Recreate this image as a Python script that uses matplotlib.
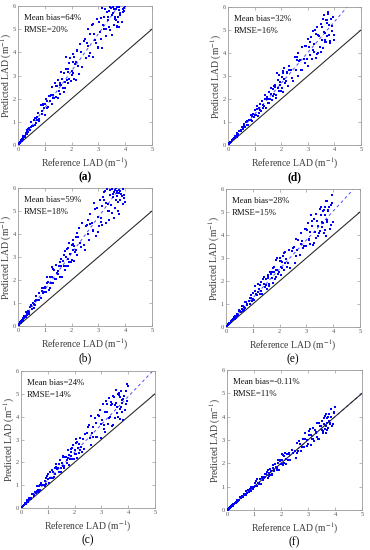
import matplotlib
matplotlib.use("Agg")
import matplotlib.pyplot as plt

plt.rcParams['font.family'] = ['Liberation Serif', 'DejaVu Serif']
plt.rcParams['mathtext.fontset'] = 'stix'

# Reference LAD (shared x values for all panels), two batches
reference_lad = [
    0.02, 0.04, 0.05, 0.06, 0.08, 0.10, 0.12, 0.15, 0.18, 0.20,
    0.22, 0.25, 0.28, 0.30, 0.33, 0.35, 0.38, 0.40, 0.45, 0.50,
    0.52, 0.55, 0.60, 0.62, 0.65, 0.68, 0.70, 0.75, 0.80, 0.85,
    0.88, 0.90, 0.95, 1.00, 1.05, 1.10, 1.12, 1.15, 1.20, 1.22,
    1.25, 1.28, 1.30, 1.35, 1.40, 1.42, 1.45, 1.50, 1.52, 1.55,
    1.58, 1.60, 1.65, 1.70, 1.72, 1.75, 1.80, 1.85, 1.88, 1.90,
    1.92, 1.95, 2.00, 2.02, 2.05, 2.08, 2.10, 2.12, 2.15, 2.20,
    2.25, 2.30, 2.35, 2.40, 2.50, 2.55, 2.60, 2.62, 2.65, 2.70,
    2.75, 2.80, 2.85, 2.90, 2.95, 3.00, 3.02, 3.05, 3.10, 3.12,
    3.15, 3.20, 3.22, 3.25, 3.30, 3.32, 3.35, 3.40, 3.45, 3.50,
    3.52, 3.55, 3.58, 3.60, 3.62, 3.65, 3.68, 3.70, 3.72, 3.75,
    3.78, 3.80, 3.85, 3.90, 3.95, 4.00,
]
reference_lad_2 = [
    0.03, 0.07, 0.09, 0.11, 0.14, 0.17, 0.24, 0.27, 0.32, 0.36,
    0.42, 0.48, 0.58, 0.66, 0.72, 0.78, 0.92, 0.98, 1.08, 1.18,
    1.32, 1.38, 1.48, 1.56, 1.62, 1.68, 1.78, 1.82, 1.87, 1.97,
    2.04, 2.07, 2.18, 2.28, 2.45, 2.58, 2.68, 2.78, 2.88, 2.98,
    3.08, 3.18, 3.28, 3.38, 3.42, 3.48, 3.56, 3.63, 3.66, 3.71,
    3.74, 3.77, 3.82, 3.87, 3.92, 3.97, 1.02, 1.74, 2.22, 3.36,
]

pred_a = [
    0.03, 0.07, 0.10, 0.08, 0.13, 0.20, 0.18, 0.26, 0.24, 0.37,
    0.37, 0.36, 0.53, 0.47, 0.58, 0.47, 0.70, 0.67, 0.64, 1.00,
    0.83, 0.81, 1.08, 1.18, 0.88, 1.16, 1.07, 1.39, 1.14, 1.74,
    1.45, 1.35, 1.71, 1.30, 2.00, 1.90, 1.65, 2.13, 1.89, 2.17,
    1.75, 2.50, 2.15, 2.03, 2.56, 2.06, 2.54, 2.81, 2.32, 2.60,
    2.21, 3.16, 2.85, 2.30, 3.10, 2.71, 3.78, 3.15, 2.68, 3.52,
    2.83, 3.75, 3.20, 3.03, 3.59, 2.86, 3.78, 3.50, 2.80, 4.07,
    3.43, 4.37, 4.00, 3.36, 4.56, 3.76, 5.01, 4.26, 3.84, 4.79,
    5.16, 3.78, 4.77, 4.42, 5.46, 4.20, 5.29, 4.88, 4.57, 5.93,
    4.17, 5.52, 4.99, 5.85, 4.70, 5.75, 5.53, 5.10, 5.95, 4.73,
    5.62, 5.68, 5.19, 5.88, 5.52, 5.40, 5.15, 5.97, 5.30, 5.82,
    5.10, 5.60, 6.10, 5.75, 5.92, 5.98,
]
pred_a_2 = [
    0.04, 0.13, 0.14, 0.19, 0.19, 0.31, 0.40, 0.38, 0.63, 0.54,
    0.75, 0.76, 1.09, 0.94, 1.22, 1.03, 1.75, 1.59, 1.59, 2.12,
    2.01, 2.69, 2.04, 2.69, 2.59, 2.44, 3.29, 2.82, 3.27, 2.76,
    3.93, 3.11, 3.60, 3.08, 4.47, 4.39, 3.95, 5.21, 4.54, 4.25,
    5.47, 5.17, 5.00, 5.80, 4.96, 5.90, 5.96, 5.45, 5.85, 5.10,
    5.52, 5.95, 5.70, 5.32, 5.88, 5.78, 1.76, 2.48, 4.11, 5.38,
]

pred_b = [
    0.04, 0.07, 0.07, 0.12, 0.13, 0.15, 0.21, 0.28, 0.24, 0.33,
    0.33, 0.45, 0.40, 0.60, 0.54, 0.52, 0.67, 0.52, 0.84, 0.85,
    0.76, 1.00, 0.94, 1.08, 0.91, 1.29, 1.14, 1.12, 1.43, 1.22,
    1.51, 1.65, 1.43, 1.65, 1.47, 2.12, 1.90, 1.55, 2.11, 1.87,
    2.55, 2.14, 1.85, 2.44, 2.06, 2.67, 2.29, 2.24, 2.61, 2.12,
    2.78, 2.61, 2.15, 3.08, 2.60, 3.26, 3.01, 2.59, 3.37, 2.79,
    3.61, 3.12, 2.88, 3.51, 3.75, 2.81, 3.47, 3.20, 3.89, 3.08,
    3.87, 3.63, 3.45, 4.46, 3.32, 4.34, 3.98, 4.61, 3.76, 4.89,
    4.48, 4.17, 5.36, 3.92, 5.13, 4.74, 4.35, 5.46, 4.68, 5.21,
    4.41, 5.50, 5.83, 5.88, 4.46, 5.96, 5.29, 5.00, 5.70, 5.95,
    4.93, 5.62, 5.84, 4.68, 5.90, 5.48, 5.66, 5.78, 5.02, 5.92,
    4.85, 5.48, 5.72, 5.97, 5.55, 5.40,
]
pred_b_2 = [
    0.05, 0.11, 0.16, 0.16, 0.23, 0.23, 0.45, 0.43, 0.47, 0.63,
    0.63, 0.91, 0.80, 1.12, 1.14, 1.12, 1.67, 1.50, 1.86, 1.65,
    2.48, 2.06, 2.41, 2.11, 2.90, 2.81, 2.62, 3.33, 2.92, 2.80,
    3.55, 3.31, 3.29, 4.24, 3.53, 4.39, 4.42, 4.14, 5.07, 4.08,
    4.53, 5.60, 5.35, 4.63, 5.92, 5.25, 5.74, 5.15, 5.98, 5.86,
    5.39, 5.80, 5.85, 5.65, 5.29, 5.68, 1.68, 2.43, 4.05, 5.01,
]

pred_c = [
    0.03, 0.05, 0.06, 0.09, 0.10, 0.14, 0.13, 0.22, 0.23, 0.23,
    0.31, 0.28, 0.38, 0.43, 0.39, 0.45, 0.42, 0.60, 0.60, 0.53,
    0.72, 0.66, 0.96, 0.81, 0.72, 0.97, 0.81, 1.11, 0.99, 0.99,
    1.19, 0.97, 1.31, 1.28, 1.08, 1.56, 1.33, 1.67, 1.57, 1.34,
    1.75, 1.47, 1.92, 1.70, 1.58, 1.94, 2.09, 1.59, 1.97, 1.84,
    2.24, 1.75, 2.22, 2.11, 1.98, 2.55, 1.88, 2.46, 2.26, 2.63,
    2.14, 2.77, 2.55, 2.36, 3.02, 2.20, 2.87, 2.63, 2.43, 3.08,
    2.67, 3.02, 2.58, 3.24, 3.55, 3.62, 2.76, 4.05, 3.29, 3.11,
    3.95, 3.72, 3.12, 4.01, 4.30, 3.07, 3.85, 4.55, 3.62, 4.21,
    3.34, 4.54, 4.22, 3.68, 4.80, 4.00, 4.52, 3.60, 4.90, 4.53,
    3.92, 5.15, 4.44, 4.14, 5.00, 4.95, 3.90, 4.85, 4.41, 4.72,
    4.21, 3.85, 4.91, 4.56, 5.45, 5.35,
]
pred_c_2 = [
    0.04, 0.10, 0.10, 0.15, 0.17, 0.19, 0.34, 0.32, 0.43, 0.40,
    0.62, 0.56, 0.74, 0.70, 1.01, 1.02, 1.06, 1.41, 1.32, 1.31,
    1.81, 1.74, 1.76, 2.28, 1.83, 2.23, 2.30, 2.13, 2.58, 2.13,
    2.35, 2.86, 2.79, 2.46, 3.30, 3.07, 3.56, 3.09, 4.09, 3.70,
    3.48, 4.67, 3.94, 4.56, 3.63, 4.87, 4.59, 3.99, 5.05, 4.34,
    5.12, 4.60, 4.78, 4.30, 5.14, 4.70, 1.49, 2.19, 2.55, 4.65,
]

pred_d = [
    0.03, 0.05, 0.08, 0.08, 0.10, 0.15, 0.15, 0.23, 0.24, 0.25,
    0.31, 0.29, 0.41, 0.41, 0.36, 0.53, 0.48, 0.61, 0.63, 0.59,
    0.77, 0.68, 0.93, 0.83, 0.79, 0.98, 1.06, 0.86, 1.10, 1.08,
    1.32, 1.06, 1.36, 1.32, 1.29, 1.69, 1.26, 1.62, 1.54, 1.79,
    1.49, 1.92, 1.76, 1.68, 2.18, 1.62, 2.10, 1.98, 1.84, 2.30,
    2.00, 2.23, 1.94, 2.43, 2.58, 2.63, 2.05, 3.11, 2.48, 2.34,
    3.05, 2.75, 2.35, 2.96, 3.15, 2.30, 2.85, 3.33, 2.68, 3.14,
    2.57, 3.45, 3.27, 2.91, 3.84, 3.27, 3.71, 2.99, 3.98, 3.71,
    3.28, 4.25, 3.76, 3.57, 4.32, 4.61, 3.44, 4.25, 3.92, 4.68,
    3.76, 4.95, 4.37, 4.06, 4.83, 3.80, 5.15, 4.79, 4.24, 5.25,
    4.58, 5.13, 4.21, 5.66, 4.91, 4.56, 5.45, 4.48, 5.31, 5.78,
    4.80, 5.22, 4.53, 4.95, 5.57, 4.56,
]
pred_d_2 = [
    0.05, 0.09, 0.12, 0.13, 0.21, 0.24, 0.30, 0.41, 0.42, 0.43,
    0.61, 0.64, 0.74, 1.01, 0.87, 1.10, 1.26, 1.22, 1.58, 1.37,
    1.62, 2.02, 2.01, 1.81, 2.49, 2.13, 2.51, 2.17, 2.81, 2.60,
    2.47, 3.21, 2.79, 3.26, 2.79, 3.82, 3.67, 3.28, 4.30, 3.73,
    4.47, 4.13, 4.98, 4.02, 4.75, 4.05, 5.47, 4.86, 4.50, 5.42,
    4.75, 5.70, 4.43, 5.46, 5.17, 4.80, 1.53, 2.23, 3.17, 3.96,
]

pred_e = [
    0.03, 0.05, 0.06, 0.08, 0.12, 0.11, 0.16, 0.18, 0.26, 0.23,
    0.31, 0.32, 0.33, 0.45, 0.36, 0.48, 0.47, 0.57, 0.52, 0.73,
    0.69, 0.66, 0.91, 0.68, 0.91, 0.87, 0.82, 1.08, 0.98, 1.15,
    1.00, 1.25, 1.39, 1.46, 1.16, 1.80, 1.43, 1.37, 1.86, 1.67,
    1.42, 1.82, 1.95, 1.43, 1.85, 2.18, 1.75, 2.08, 1.67, 2.26,
    2.13, 1.88, 2.38, 2.11, 2.39, 1.93, 2.63, 2.47, 2.17, 2.98,
    2.46, 2.32, 2.85, 3.02, 2.26, 2.81, 2.58, 3.10, 2.47, 3.25,
    2.97, 2.78, 3.34, 2.55, 3.45, 3.49, 3.09, 3.83, 3.34, 3.80,
    3.13, 4.08, 3.76, 3.51, 4.25, 3.51, 4.20, 4.51, 3.81, 4.15,
    3.59, 4.62, 4.41, 3.58, 4.69, 4.12, 4.90, 4.59, 3.97, 5.11,
    4.19, 4.85, 4.58, 4.36, 5.03, 4.09, 5.23, 4.88, 3.94, 5.48,
    4.65, 5.10, 5.20, 4.45, 5.75, 4.55,
]
pred_e_2 = [
    0.04, 0.09, 0.11, 0.16, 0.16, 0.23, 0.32, 0.33, 0.45, 0.40,
    0.50, 0.68, 0.77, 0.74, 1.08, 0.96, 1.26, 1.13, 1.58, 1.51,
    1.55, 2.09, 1.84, 2.17, 1.78, 2.30, 2.37, 2.07, 2.90, 2.38,
    2.87, 2.61, 3.22, 2.63, 3.31, 2.79, 3.80, 3.61, 3.43, 4.24,
    3.78, 4.87, 3.67, 4.63, 4.38, 4.08, 5.20, 4.52, 5.08, 4.23,
    5.50, 4.56, 5.03, 4.26, 5.30, 5.37, 1.21, 2.57, 2.80, 3.88,
]

pred_f = [
    0.02, 0.04, 0.06, 0.06, 0.08, 0.12, 0.13, 0.14, 0.19, 0.22,
    0.19, 0.26, 0.32, 0.29, 0.35, 0.32, 0.42, 0.42, 0.42, 0.56,
    0.51, 0.58, 0.54, 0.68, 0.67, 0.63, 0.81, 0.75, 0.76, 0.92,
    0.99, 0.81, 0.99, 0.97, 1.16, 1.02, 1.32, 1.17, 1.15, 1.32,
    1.10, 1.43, 1.37, 1.28, 1.54, 1.41, 1.55, 1.38, 1.73, 1.58,
    1.52, 1.74, 1.55, 1.80, 1.91, 1.70, 1.85, 1.70, 2.16, 2.00,
    1.73, 2.11, 1.96, 2.42, 2.13, 1.93, 2.31, 2.01, 2.43, 2.20,
    2.16, 2.44, 2.14, 2.59, 2.55, 2.24, 2.86, 2.54, 2.97, 2.81,
    2.53, 3.05, 2.71, 3.28, 2.98, 2.82, 3.23, 3.39, 2.79, 3.21,
    3.06, 3.52, 2.96, 3.45, 3.30, 3.15, 3.75, 3.03, 3.62, 3.43,
    3.80, 3.30, 3.94, 3.67, 3.48, 4.12, 3.31, 3.96, 3.72, 3.53,
    4.12, 3.69, 4.00, 3.59, 4.19, 4.40,
]
pred_f_2 = [
    0.03, 0.08, 0.09, 0.10, 0.16, 0.16, 0.25, 0.25, 0.35, 0.36,
    0.39, 0.54, 0.57, 0.70, 0.65, 0.85, 0.95, 0.90, 1.24, 1.13,
    1.41, 1.37, 1.64, 1.45, 1.68, 1.50, 1.99, 1.84, 1.78, 2.13,
    1.98, 2.36, 1.98, 2.39, 2.45, 2.43, 2.95, 2.72, 3.05, 2.74,
    3.48, 3.05, 3.35, 3.04, 3.73, 3.62, 3.38, 4.03, 3.62, 3.45,
    4.00, 3.81, 3.71, 4.33, 3.68, 4.17, 1.05, 1.67, 2.40, 3.06,
]

panel_letters = ["(a)", "(b)", "(c)", "(d)", "(e)", "(f)"]
mean_bias = ["64%", "59%", "24%", "32%", "28%", "-0.11%"]
rmse = ["20%", "18%", "14%", "16%", "15%", "11%"]
fit_slopes = [1.60, 1.58, 1.22, 1.34, 1.26, 1.00]
predictions = [
    (pred_a, pred_a_2), (pred_b, pred_b_2), (pred_c, pred_c_2),
    (pred_d, pred_d_2), (pred_e, pred_e_2), (pred_f, pred_f_2),
]
letter_bold = [True, False, False, True, False, False]

fig = plt.figure(figsize=(3.7, 5.5), dpi=100)

W, H = 370.0, 550.0
# pixel boxes: left, top, right, bottom
boxes = [
    (18, 6, 152, 145),
    (18, 188, 152, 326),
    (21, 371, 155, 508),
    (228, 7, 361, 145),
    (226, 189, 360, 327),
    (227, 370, 362, 510),
]

spine_col = '#9a9a9a'
text_col = '#3a3a3a'
xs = reference_lad + reference_lad_2

for i in range(6):
    l, t, r, b = boxes[i]
    ax = fig.add_axes([l / W, 1 - b / H, (r - l) / W, (b - t) / H])
    p1, p2 = predictions[i]
    ys = p1 + p2
    ax.plot([0, 5], [0, 5 * fit_slopes[i]], linestyle=(0, (3, 3)), color='#4a4aff',
            linewidth=0.7, zorder=1)
    ax.plot([0, 5], [0, 5], color='#222222', linewidth=0.75, zorder=2)
    ax.scatter(xs, ys, s=2.8, marker='s', color='#0000ff', linewidths=0, zorder=3)
    ax.set_xlim(0, 5)
    ax.set_ylim(0, 6)
    ax.set_xticks([0, 1, 2, 3, 4, 5])
    ax.set_yticks([0, 1, 2, 3, 4, 5, 6])
    ax.tick_params(direction='in', length=2, width=0.5, labelsize=4.6,
                   colors=spine_col, labelcolor='#555555', pad=1.5,
                   top=True, right=True)
    for s in ax.spines.values():
        s.set_color(spine_col)
        s.set_linewidth(0.6)
    ax.set_xlabel("Reference LAD (m$^{-1}$)", fontsize=6.9, color=text_col, labelpad=2.5)
    ax.set_ylabel("Predicted LAD (m$^{-1}$)", fontsize=6.9, color=text_col)
    ax.yaxis.set_label_coords(-0.032, 0.5)
    ax.text(0.045, 0.914, "Mean bias=" + mean_bias[i], transform=ax.transAxes,
            fontsize=6.3, va='center', ha='left', color='#111111')
    ax.text(0.045, 0.828, "RMSE=" + rmse[i], transform=ax.transAxes,
            fontsize=6.3, va='center', ha='left', color='#111111')
    ax.text(0.5, -0.19, panel_letters[i], transform=ax.transAxes, fontsize=8.3,
            va='top', ha='center', color='black',
            fontweight='bold' if letter_bold[i] else 'normal')

fig.savefig("out.png", dpi=100)
